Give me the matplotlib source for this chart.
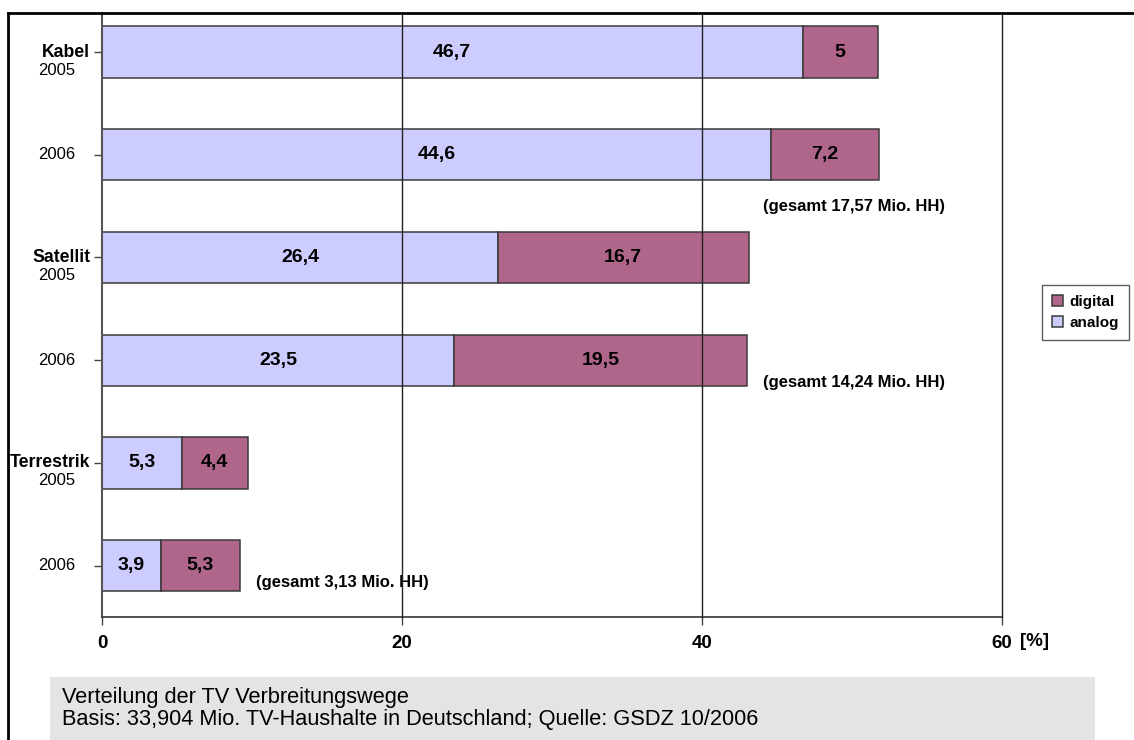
import matplotlib.pyplot as plt
from matplotlib.lines import Line2D
from matplotlib.patches import Rectangle

# Anteile der Haushalte in Prozent, je Verbreitungsweg und Jahr
wege = ["Kabel", "Satellit", "Terrestrik"]
jahre = ["2005", "2006"]
analog = [46.7, 44.6, 26.4, 23.5, 5.3, 3.9]
digital = [5, 7.2, 16.7, 19.5, 4.4, 5.3]
gesamt = ["(gesamt 17,57 Mio. HH)", "(gesamt 14,24 Mio. HH)", "(gesamt 3,13 Mio. HH)"]
x_ticks = [0, 20, 40, 60]
caption = ["Verteilung der TV Verbreitungswege",
           "Basis: 33,904 Mio. TV-Haushalte in Deutschland; Quelle: GSDZ 10/2006"]

plt.rcParams['font.family'] = ['Liberation Sans', 'DejaVu Sans']

c_analog = '#ccccff'
c_digital = '#b0668a'
c_edge = '#3a3a3a'


def fmt(v):
    return f"{v:g}".replace('.', ',')


fig = plt.figure(figsize=(11.34, 7.4), dpi=100)
ax = fig.add_axes([102 / 1134, 123 / 740, 900 / 1134, 604 / 740])

pos = list(range(len(analog)))
h = 0.5
b_an = ax.barh(pos, analog, height=h, color=c_analog, edgecolor=c_edge, linewidth=1.1,
               label='analog', zorder=2)
b_di = ax.barh(pos, digital, left=analog, height=h, color=c_digital, edgecolor=c_edge,
               linewidth=1.1, label='digital', zorder=2)

for i in pos:
    ax.text(analog[i] / 2, i, fmt(analog[i]), ha='center', va='center',
            fontsize=14, fontweight='bold', zorder=4)
    ax.text(analog[i] + digital[i] / 2, i, fmt(digital[i]), ha='center', va='center',
            fontsize=14, fontweight='bold', zorder=4)

# Gesamtzahlen unter den 2006er Balken
note_xy = [(44.1, 1.5), (44.1, 3.22), (10.3, 5.16)]
for (nx, ny), txt in zip(note_xy, gesamt):
    ax.text(nx, ny, txt, ha='left', va='center', fontsize=12, fontweight='bold')

ax.set_xlim(0, 60)
ax.set_ylim(5.5, -0.38)

# gridlines lie over the bars
for xv in x_ticks[1:]:
    ax.axvline(xv, color='#222222', linewidth=1.0, zorder=3, clip_on=False)

ax.set_xticks(x_ticks)
ax.set_xticklabels([str(t) for t in x_ticks], fontsize=13.5, fontweight='bold')
ax.annotate("[%]", xy=(60, 0), xycoords=('data', 'axes fraction'), xytext=(13, -17.5),
            textcoords='offset points', ha='left', va='center',
            fontsize=13.5, fontweight='bold')
ax.tick_params(axis='x', length=6, width=1, color='#444444', pad=7)

ax.set_yticks(pos)
ax.set_yticklabels([])
ax.tick_params(axis='y', length=6, width=1, color='#444444')
ytr = ax.get_yaxis_transform()
for i in pos:
    if i % 2 == 0:
        ax.text(-0.013, i, wege[i // 2], transform=ytr,
                ha='right', va='center', fontsize=12.7, fontweight='bold')
        ax.text(-0.0506, i + 0.175, jahre[0], transform=ytr,
                ha='center', va='center', fontsize=12)
    else:
        ax.text(-0.0506, i, jahre[1], transform=ytr,
                ha='center', va='center', fontsize=12)

for s in ['top', 'right']:
    ax.spines[s].set_visible(False)
ax.spines['left'].set_color('#555555')
ax.spines['left'].set_linewidth(1.5)
ax.spines['bottom'].set_color('#333333')
ax.spines['bottom'].set_linewidth(1.2)

leg = ax.legend(handles=[b_di, b_an], loc='upper left',
                bbox_to_anchor=(1042 / 1134, 1 - 285 / 740), bbox_transform=fig.transFigure,
                borderaxespad=0, frameon=True, fancybox=False,
                handlelength=0.75, handleheight=0.75, handletextpad=0.4,
                borderpad=0.65, labelspacing=0.45, prop={'weight': 'bold', 'size': 11})
leg.get_frame().set_edgecolor('#333333')
leg.get_frame().set_linewidth(1.0)

# Rahmen links und oben
fig.add_artist(Line2D([8 / 1134, 8 / 1134], [0, 727 / 740], color='black', linewidth=2))
fig.add_artist(Line2D([8 / 1134, 1], [727 / 740, 727 / 740], color='black', linewidth=2))

# Quellenkasten
fig.add_artist(Rectangle((50 / 1134, 0), 1045 / 1134, 63 / 740, transform=fig.transFigure,
                         facecolor='#e4e4e4', edgecolor='none'))
fig.text(62 / 1134, 1 - 697 / 740, caption[0], ha='left', va='center', fontsize=15.7)
fig.text(62 / 1134, 1 - 720 / 740, caption[1], ha='left', va='center', fontsize=15.7)

fig.savefig('out.png', dpi=100)
